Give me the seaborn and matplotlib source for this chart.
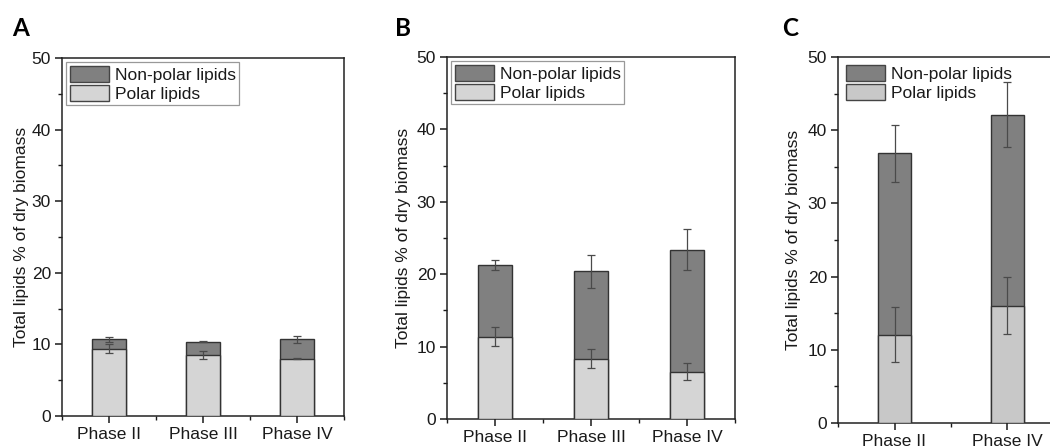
import matplotlib
matplotlib.use("Agg")
import matplotlib.pyplot as plt
from matplotlib.patches import Patch
from matplotlib.ticker import FixedLocator, MultipleLocator
import seaborn as sns
import pandas as pd
import numpy as np

# ---------------- data ----------------
phases_A = ["Phase II", "Phase III", "Phase IV"]
polar_A = [9.4, 8.5, 8.0]
polar_err_A = [0.65, 0.6, 0.1]
total_A = [10.7, 10.4, 10.7]
total_err_A = [0.35, 0.1, 0.45]

phases_B = ["Phase II", "Phase III", "Phase IV"]
polar_B = [11.35, 8.35, 6.55]
polar_err_B = [1.3, 1.35, 1.2]
total_B = [21.25, 20.4, 23.4]
total_err_B = [0.7, 2.3, 2.8]

phases_C = ["Phase II", "Phase IV"]
polar_C = [12.05, 16.0]
polar_err_C = [3.75, 3.9]
total_C = [36.85, 42.1]
total_err_C = [3.9, 4.45]

legend_labels = ["Non-polar lipids", "Polar lipids"]
panel_letters = ["A", "B", "C"]
ylabel = "Total lipids % of dry biomass"

# ---------------- style ----------------
sns.set_theme(style="ticks")
plt.rcParams["font.family"] = ["Liberation Sans", "DejaVu Sans"]
FS = 12.5
DARK = "#808080"
LIGHT_AB = "#d5d5d5"
LIGHT_C = "#c8c8c8"
EDGE = "#333333"
TXT = "#1a1a1a"
ERR = "#4a4a4a"

W, H = 1050, 448
fig = plt.figure(figsize=(W / 100, H / 100), dpi=100)

def px_axes(left, top, right, bottom):
    return fig.add_axes([left / W, 1 - bottom / H, (right - left) / W, (bottom - top) / H])

panels = [
    dict(box=(62, 58, 344, 416), phases=phases_A, polar=polar_A, pe=polar_err_A,
         total=total_A, te=total_err_A, width=0.36, light=LIGHT_AB, frame=True,
         ylab_x=-0.118, letter_x=12),
    dict(box=(447, 57, 735, 419), phases=phases_B, polar=polar_B, pe=polar_err_B,
         total=total_B, te=total_err_B, width=0.35, light=LIGHT_AB, frame=True,
         ylab_x=-0.126, letter_x=395),
    dict(box=(838, 57, 1064, 423), phases=phases_C, polar=polar_C, pe=polar_err_C,
         total=total_C, te=total_err_C, width=0.30, light=LIGHT_C, frame=False,
         ylab_x=-0.165, letter_x=782),
]

for p, letter in zip(panels, panel_letters):
    ax = px_axes(*p["box"])
    df = pd.DataFrame({"phase": p["phases"], "polar": p["polar"], "total": p["total"]})
    sns.barplot(data=df, x="phase", y="total", color=DARK, saturation=1, width=p["width"],
                edgecolor=EDGE, linewidth=1.0, errorbar=None, ax=ax, zorder=2)
    sns.barplot(data=df, x="phase", y="polar", color=p["light"], saturation=1, width=p["width"],
                edgecolor=EDGE, linewidth=1.0, errorbar=None, ax=ax, zorder=3)
    xs = np.arange(len(p["phases"]))
    ax.errorbar(xs, p["total"], yerr=p["te"], fmt="none", ecolor=ERR,
                elinewidth=0.9, capsize=2.6, capthick=0.9, zorder=4)
    ax.errorbar(xs, p["polar"], yerr=p["pe"], fmt="none", ecolor=ERR,
                elinewidth=0.9, capsize=2.6, capthick=0.9, zorder=4)

    n = len(p["phases"])
    ax.set_xlim(-0.5, n - 0.5)
    ax.set_ylim(0, 50)
    ax.yaxis.set_major_locator(MultipleLocator(10))
    ax.yaxis.set_minor_locator(MultipleLocator(5))
    ax.xaxis.set_minor_locator(FixedLocator(list(np.arange(n + 1) - 0.5)))
    ax.tick_params(axis="both", which="major", direction="out", length=5, width=1.1,
                   labelsize=FS, colors=TXT, pad=3)
    ax.tick_params(axis="both", which="minor", direction="out", length=3, width=1.0, colors=TXT)
    ax.tick_params(top=False, right=False)
    ax.set_xlabel("")
    ax.set_ylabel(ylabel, fontsize=FS, color=TXT)
    ax.yaxis.set_label_coords(p["ylab_x"], 0.5)
    for s in ax.spines.values():
        s.set_visible(True)
        s.set_linewidth(1.1)
        s.set_color("#222222")
    ax.set_facecolor("white")

    handles = [Patch(facecolor=DARK, edgecolor="#444444", linewidth=1.0),
               Patch(facecolor=p["light"], edgecolor="#444444", linewidth=1.0)]
    leg = ax.legend(handles, legend_labels, loc="upper left", bbox_to_anchor=(0, 1),
                    borderaxespad=0.25, frameon=p["frame"], fancybox=False, framealpha=1,
                    edgecolor="#999999", fontsize=FS, handlelength=2.25, handleheight=1.05,
                    handletextpad=0.35, labelspacing=0.12, borderpad=0.2)
    if p["frame"]:
        leg.get_frame().set_linewidth(0.9)
    for t in leg.get_texts():
        t.set_color(TXT)

    fig.text(p["letter_x"] / W, 1 - 17 / H, letter, fontsize=17.5, fontweight="bold",
             family=["Lato", "DejaVu Sans"], va="top", ha="left", color="black")

fig.savefig("out.png", dpi=100, facecolor="white")
